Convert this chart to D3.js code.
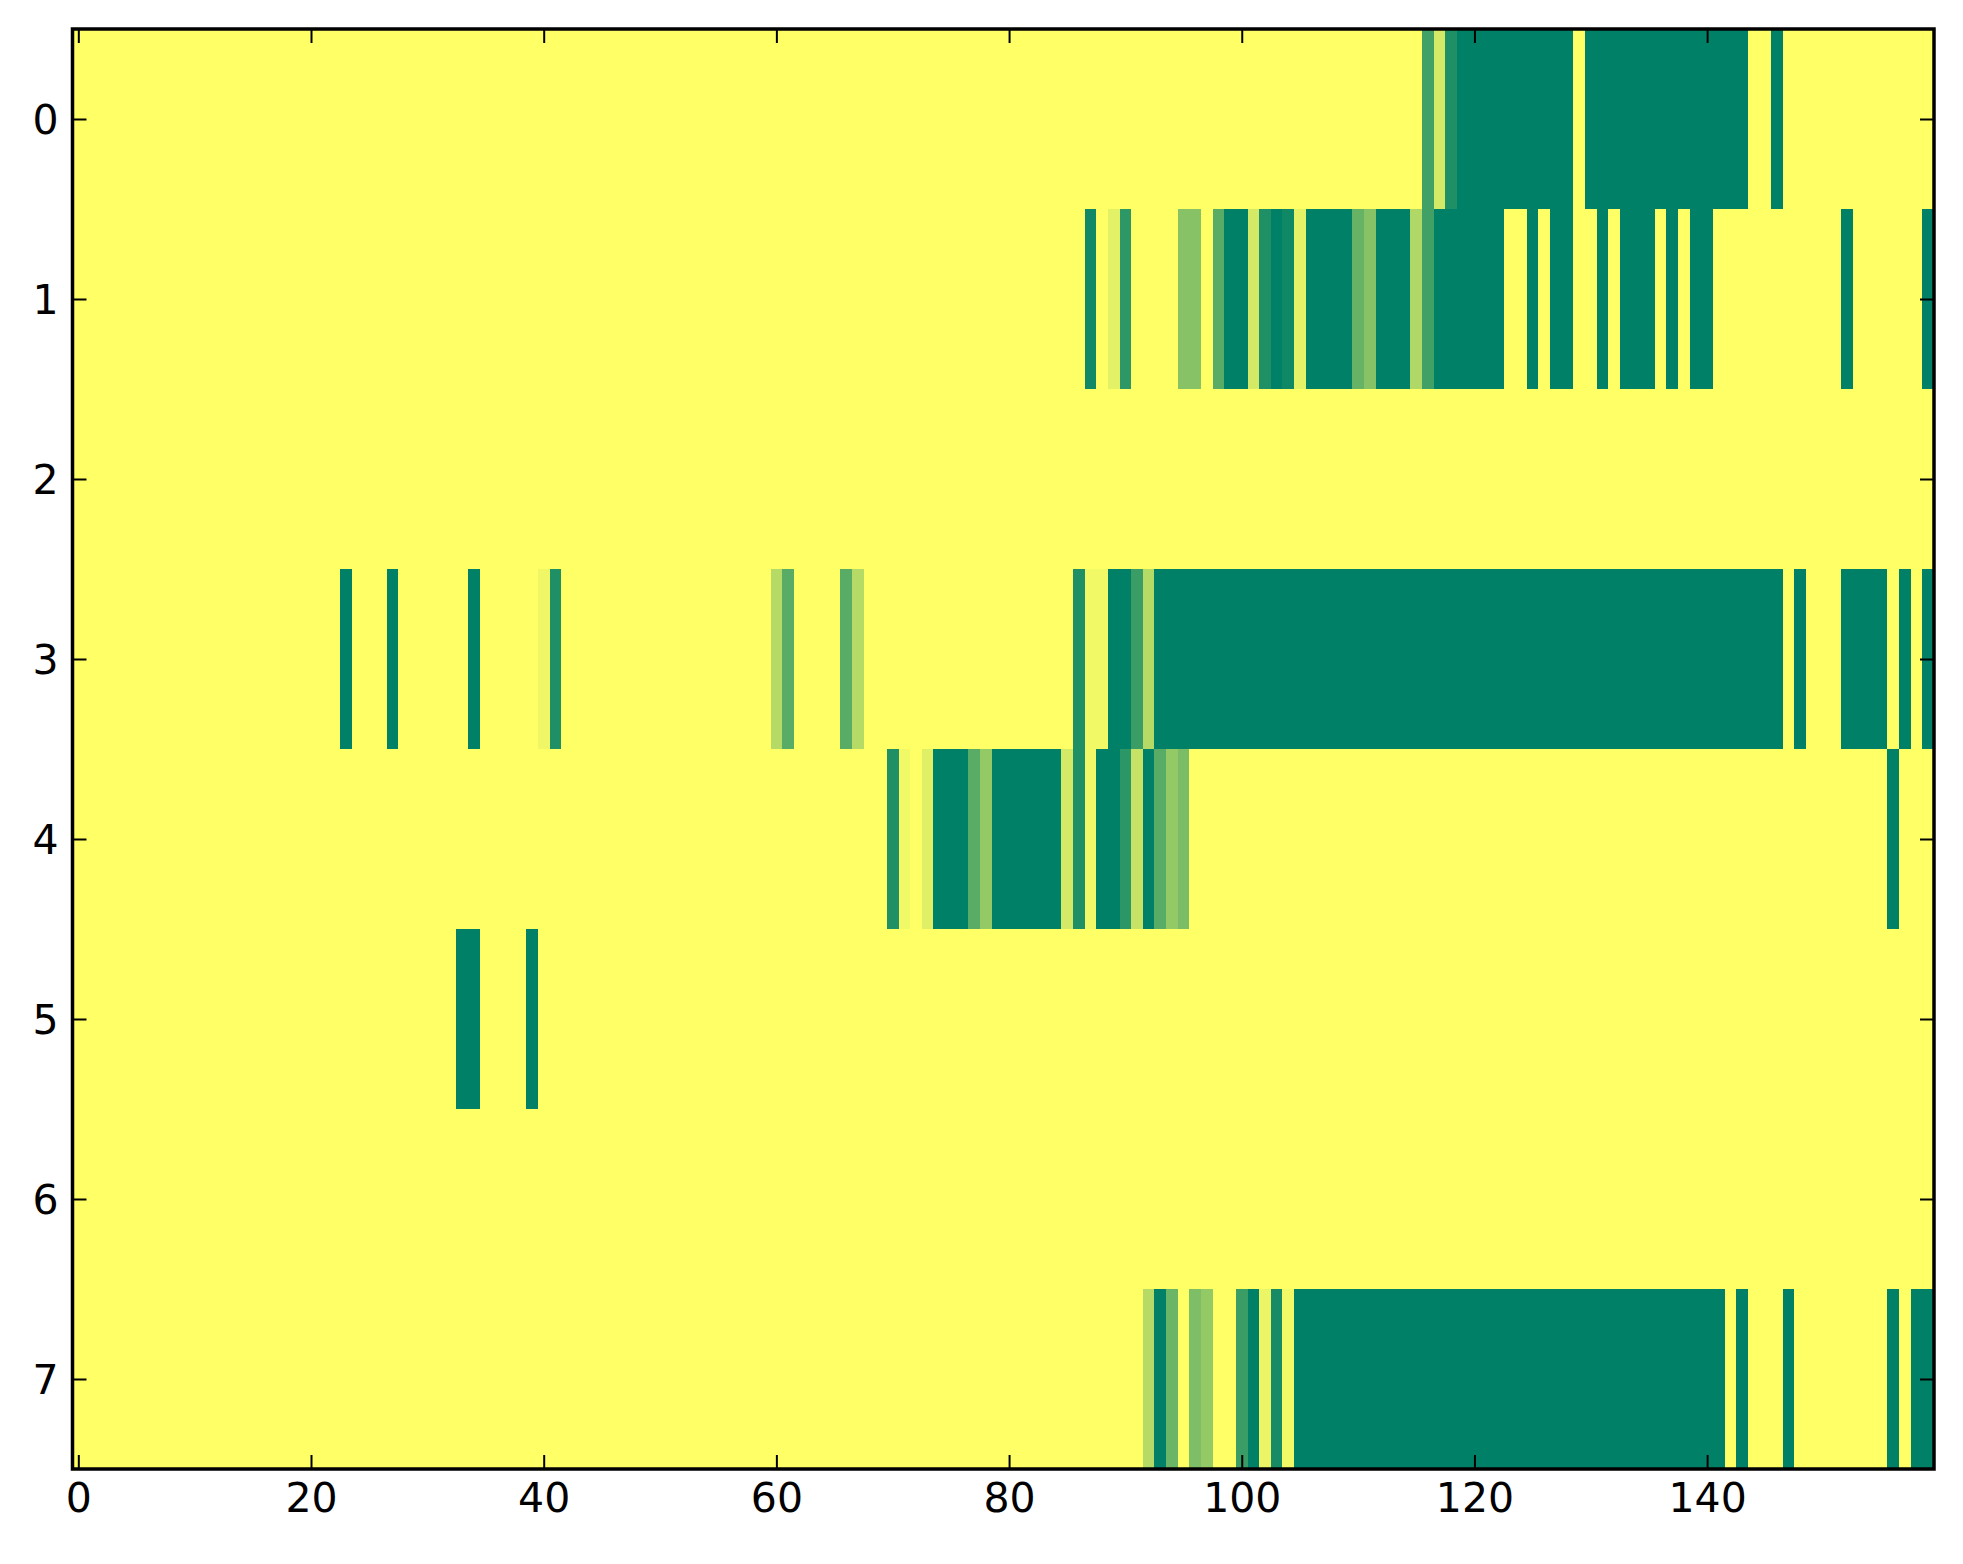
<!DOCTYPE html>
<html>
<head>
<meta charset="utf-8">
<script src="https://cdn.jsdelivr.net/npm/d3@7"></script>
<style>
    body { margin: 0; background: #ffffff; }
    svg text { font-family: "DejaVu Sans", sans-serif; }
</style>
</head>
<body>
<div id="heat"></div>
<script>
// cell values, 160 columns per row (0 = yellow, 1 = green)
const row0 = [
    0,0,0,0,0,0,0,0,0,0,0,0,0,0,0,0,0,0,0,0,
    0,0,0,0,0,0,0,0,0,0,0,0,0,0,0,0,0,0,0,0,
    0,0,0,0,0,0,0,0,0,0,0,0,0,0,0,0,0,0,0,0,
    0,0,0,0,0,0,0,0,0,0,0,0,0,0,0,0,0,0,0,0,
    0,0,0,0,0,0,0,0,0,0,0,0,0,0,0,0,0,0,0,0,
    0,0,0,0,0,0,0,0,0,0,0,0,0,0,0,0,.75,.17,.88,1,
    1,1,1,1,1,1,1,1,1,0,1,1,1,1,1,1,1,1,1,1,
    1,1,1,1,0,0,1,0,0,0,0,0,0,0,0,0,0,0,0,0
];
const row1 = [
    0,0,0,0,0,0,0,0,0,0,0,0,0,0,0,0,0,0,0,0,
    0,0,0,0,0,0,0,0,0,0,0,0,0,0,0,0,0,0,0,0,
    0,0,0,0,0,0,0,0,0,0,0,0,0,0,0,0,0,0,0,0,
    0,0,0,0,0,0,0,0,0,0,0,0,0,0,0,0,0,0,0,0,
    0,0,0,0,0,0,0,.93,0,.11,.82,0,0,0,0,.47,.47,0,.65,1,
    1,.17,.88,1,.94,.1,1,1,1,1,.6,.47,1,1,1,.31,.75,1,1,1,
    1,1,1,0,0,1,0,1,1,0,0,1,0,1,1,1,0,1,0,1,
    1,0,0,0,0,0,0,0,0,0,0,0,1,0,0,0,0,0,0,1
];
const row2 = [
    0,0,0,0,0,0,0,0,0,0,0,0,0,0,0,0,0,0,0,0,
    0,0,0,0,0,0,0,0,0,0,0,0,0,0,0,0,0,0,0,0,
    0,0,0,0,0,0,0,0,0,0,0,0,0,0,0,0,0,0,0,0,
    0,0,0,0,0,0,0,0,0,0,0,0,0,0,0,0,0,0,0,0,
    0,0,0,0,0,0,0,0,0,0,0,0,0,0,0,0,0,0,0,0,
    0,0,0,0,0,0,0,0,0,0,0,0,0,0,0,0,0,0,0,0,
    0,0,0,0,0,0,0,0,0,0,0,0,0,0,0,0,0,0,0,0,
    0,0,0,0,0,0,0,0,0,0,0,0,0,0,0,0,0,0,0,0
];
const row3 = [
    0,0,0,0,0,0,0,0,0,0,0,0,0,0,0,0,0,0,0,0,
    0,0,0,1,0,0,0,1,0,0,0,0,0,0,1,0,0,0,0,0,
    .06,.88,0,0,0,0,0,0,0,0,0,0,0,0,0,0,0,0,0,0,
    .29,.65,0,0,0,0,.65,.29,0,0,0,0,0,0,0,0,0,0,0,0,
    0,0,0,0,0,0,.88,.05,.05,1,1,.77,.29,1,1,1,1,1,1,1,
    1,1,1,1,1,1,1,1,1,1,1,1,1,1,1,1,1,1,1,1,
    1,1,1,1,1,1,1,1,1,1,1,1,1,1,1,1,1,1,1,1,
    1,1,1,1,1,1,1,0,1,0,0,0,1,1,1,1,0,1,0,1
];
const row4 = [
    0,0,0,0,0,0,0,0,0,0,0,0,0,0,0,0,0,0,0,0,
    0,0,0,0,0,0,0,0,0,0,0,0,0,0,0,0,0,0,0,0,
    0,0,0,0,0,0,0,0,0,0,0,0,0,0,0,0,0,0,0,0,
    0,0,0,0,0,0,0,0,0,0,.88,.05,0,.12,1,1,1,.65,.42,1,
    1,1,1,1,1,.17,.88,.05,1,1,.83,.22,1,.65,.42,.52,0,0,0,0,
    0,0,0,0,0,0,0,0,0,0,0,0,0,0,0,0,0,0,0,0,
    0,0,0,0,0,0,0,0,0,0,0,0,0,0,0,0,0,0,0,0,
    0,0,0,0,0,0,0,0,0,0,0,0,0,0,0,0,1,0,0,0
];
const row5 = [
    0,0,0,0,0,0,0,0,0,0,0,0,0,0,0,0,0,0,0,0,
    0,0,0,0,0,0,0,0,0,0,0,0,0,1,1,0,0,0,0,1,
    0,0,0,0,0,0,0,0,0,0,0,0,0,0,0,0,0,0,0,0,
    0,0,0,0,0,0,0,0,0,0,0,0,0,0,0,0,0,0,0,0,
    0,0,0,0,0,0,0,0,0,0,0,0,0,0,0,0,0,0,0,0,
    0,0,0,0,0,0,0,0,0,0,0,0,0,0,0,0,0,0,0,0,
    0,0,0,0,0,0,0,0,0,0,0,0,0,0,0,0,0,0,0,0,
    0,0,0,0,0,0,0,0,0,0,0,0,0,0,0,0,0,0,0,0
];
const row6 = [
    0,0,0,0,0,0,0,0,0,0,0,0,0,0,0,0,0,0,0,0,
    0,0,0,0,0,0,0,0,0,0,0,0,0,0,0,0,0,0,0,0,
    0,0,0,0,0,0,0,0,0,0,0,0,0,0,0,0,0,0,0,0,
    0,0,0,0,0,0,0,0,0,0,0,0,0,0,0,0,0,0,0,0,
    0,0,0,0,0,0,0,0,0,0,0,0,0,0,0,0,0,0,0,0,
    0,0,0,0,0,0,0,0,0,0,0,0,0,0,0,0,0,0,0,0,
    0,0,0,0,0,0,0,0,0,0,0,0,0,0,0,0,0,0,0,0,
    0,0,0,0,0,0,0,0,0,0,0,0,0,0,0,0,0,0,0,0
];
const row7 = [
    0,0,0,0,0,0,0,0,0,0,0,0,0,0,0,0,0,0,0,0,
    0,0,0,0,0,0,0,0,0,0,0,0,0,0,0,0,0,0,0,0,
    0,0,0,0,0,0,0,0,0,0,0,0,0,0,0,0,0,0,0,0,
    0,0,0,0,0,0,0,0,0,0,0,0,0,0,0,0,0,0,0,0,
    0,0,0,0,0,0,0,0,0,0,0,0,.29,1,.58,0,.51,.42,0,0,
    .77,1,.08,.91,.05,1,1,1,1,1,1,1,1,1,1,1,1,1,1,1,
    1,1,1,1,1,1,1,1,1,1,1,1,1,1,1,1,1,1,1,1,
    1,1,0,1,0,0,0,1,0,0,0,0,0,0,0,0,1,0,1,1
];
const rowLabels = [0, 1, 2, 3, 4, 5, 6, 7];
const xTicks = [0, 20, 40, 60, 80, 100, 120, 140];

const rows = [row0, row1, row2, row3, row4, row5, row6, row7];
const nCols = row0.length;

function draw_heat() {
    const width = 1963, height = 1564;
    const left = 72.5, right = 1934, top = 29, bottom = 1469;

    let svg = d3.select('#heat').append('svg')
        .attr('width', width)
        .attr('height', height);

    let x = d3.scaleLinear().domain([-0.5, nCols - 0.5]).range([left, right]);
    let y = d3.scaleLinear().domain([-0.5, rows.length - 0.5]).range([top, bottom]);
    // summer_r colormap: low -> yellow, high -> green
    let color = d3.scaleLinear().domain([0, 1]).range(['#ffff66', '#008066']);

    let cells = [];
    rows.forEach((r, i) => r.forEach((v, j) => cells.push({row: i, col: j, value: v})));

    svg.append('g')
        .selectAll('rect')
        .data(cells)
        .enter()
        .append('rect')
        .attr('x', d => x(d.col - 0.5))
        .attr('y', d => y(d.row - 0.5))
        .attr('width', d => x(d.col + 0.5) - x(d.col - 0.5))
        .attr('height', d => y(d.row + 0.5) - y(d.row - 0.5))
        .attr('fill', d => color(d.value))
        .attr('shape-rendering', 'crispEdges');

    const tick = 14;
    let axes = [
        {axis: d3.axisBottom(x).tickValues(xTicks), at: `translate(0,${bottom})`, labels: true},
        {axis: d3.axisTop(x).tickValues(xTicks), at: `translate(0,${top})`, labels: false},
        {axis: d3.axisLeft(y).tickValues(rowLabels), at: `translate(${left},0)`, labels: true},
        {axis: d3.axisRight(y).tickValues(rowLabels), at: `translate(${right},0)`, labels: false}
    ];
    axes.forEach(a => {
        a.axis.tickSizeInner(-tick).tickSizeOuter(0).tickPadding(14);
        if (!a.labels) a.axis.tickFormat('');
        let g = svg.append('g').attr('transform', a.at).call(a.axis);
        g.select('.domain').remove();
        g.selectAll('line').attr('stroke', '#000').attr('stroke-width', 2);
        g.selectAll('text')
            .attr('fill', '#000')
            .style('font-size', '41px');
    });
    svg.selectAll('g text').filter(function () {
        return d3.select(this.parentNode.parentNode).attr('transform').startsWith(`translate(${left}`);
    }).attr('dy', '0.36em');

    svg.append('rect')
        .attr('x', left)
        .attr('y', top)
        .attr('width', right - left)
        .attr('height', bottom - top)
        .attr('fill', 'none')
        .attr('stroke', '#000')
        .attr('stroke-width', 3.5);
}

draw_heat();
</script>
</body>
</html>
